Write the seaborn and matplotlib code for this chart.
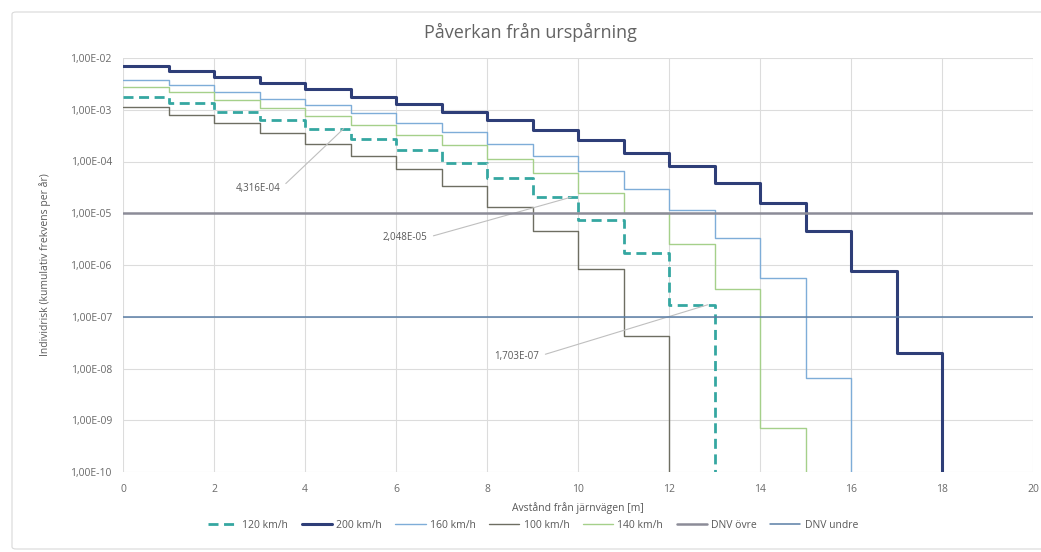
import numpy as np
import pandas as pd
import matplotlib
matplotlib.use("Agg")
import matplotlib.pyplot as plt
from matplotlib.ticker import FuncFormatter, LogLocator, NullLocator, MultipleLocator
from matplotlib.patches import FancyBboxPatch
import seaborn as sns

# Cumulative individual risk per year, stepwise per metre from the track
speed_120 = [1.75e-3, 1.35e-3, 9.0e-4, 6.3e-4, 4.316e-4, 2.7e-4, 1.66e-4, 9.3e-5,
             4.7e-5, 2.048e-5, 7.3e-6, 1.67e-6, 1.703e-7, 0.0]
speed_200 = [7.0e-3, 5.6e-3, 4.3e-3, 3.3e-3, 2.5e-3, 1.8e-3, 1.3e-3, 9.1e-4, 6.3e-4,
             4.0e-4, 2.6e-4, 1.45e-4, 8.2e-5, 3.8e-5, 1.55e-5, 4.5e-6, 7.8e-7, 2.0e-8, 0.0]
speed_160 = [3.7e-3, 3.0e-3, 2.2e-3, 1.6e-3, 1.23e-3, 8.6e-4, 5.5e-4, 3.7e-4, 2.2e-4,
             1.26e-4, 6.7e-5, 3.0e-5, 1.15e-5, 3.3e-6, 5.5e-7, 6.6e-9, 0.0]
speed_100 = [1.12e-3, 7.9e-4, 5.5e-4, 3.5e-4, 2.2e-4, 1.26e-4, 7.2e-5, 3.3e-5,
             1.3e-5, 4.5e-6, 8.5e-7, 4.3e-8, 0.0]
speed_140 = [2.8e-3, 2.2e-3, 1.55e-3, 1.1e-3, 7.6e-4, 5.0e-4, 3.2e-4, 2.05e-4, 1.1e-4,
             5.9e-5, 2.5e-5, 1.0e-5, 2.6e-6, 3.5e-7, 7e-10, 0.0]

# DNV acceptance criteria
dnv_ovre = 1e-5
dnv_undre = 1e-7

series_labels = ["120 km/h", "200 km/h", "160 km/h", "100 km/h", "140 km/h"]
series_values = [speed_120, speed_200, speed_160, speed_100, speed_140]
series_colors = ["#35A7A1", "#2E3E78", "#7EADD8", "#6E6E62", "#A5D08A"]
series_widths = [2.0, 2.2, 1.0, 1.0, 1.0]

# Annotated points: (series index, step index)
annotated = [(0, 4), (0, 9), (0, 12)]

sns.set_style("white")
plt.rcParams["font.family"] = ["Open Sans", "DejaVu Sans"]

fig = plt.figure(figsize=(10.41, 5.52), dpi=100)
fig.patches.append(FancyBboxPatch((12 / 1041, 3 / 552), 1.05, 537 / 552,
                                  boxstyle="round,pad=0,rounding_size=0.004",
                                  transform=fig.transFigure, fill=False,
                                  edgecolor="#D9D9D9", linewidth=0.8))

ax = fig.add_axes([123 / 1041, 80 / 552, 910 / 1041, 414 / 552])

for label, vals, col, lw in zip(series_labels, series_values, series_colors, series_widths):
    df = pd.DataFrame({"avstand": np.arange(len(vals)), "risk": vals})
    kw = dict(dashes=(3.6, 2.0)) if label == "120 km/h" else {}
    sns.lineplot(data=df, x="avstand", y="risk", ax=ax, color=col, linewidth=lw,
                 drawstyle="steps-post", estimator=None, label=label, **kw)

ax.axhline(dnv_ovre, color="#8C8C98", linewidth=1.8, label="DNV övre", zorder=5)
ax.axhline(dnv_undre, color="#5A7EA6", linewidth=1.1, label="DNV undre", zorder=5)

ax.set_yscale("log")
ax.set_ylim(1e-10, 1e-2)
ax.set_xlim(0, 20)
ax.xaxis.set_major_locator(MultipleLocator(2))
ax.yaxis.set_major_locator(LogLocator(base=10, numticks=20))
ax.yaxis.set_minor_locator(NullLocator())
ax.yaxis.set_major_formatter(FuncFormatter(lambda v, p: f"{v:.2E}".replace(".", ",")))

ax.grid(True, color="#DCDCDC", linewidth=0.8)
for s in ax.spines.values():
    s.set_visible(False)
ax.tick_params(length=0, labelsize=7.5, labelcolor="#6A6A6A")
ax.tick_params(axis="x", pad=9)
ax.tick_params(axis="y", pad=8)
ax.set_xlabel("Avstånd från järnvägen [m]", fontsize=7.5, color="#595959", labelpad=5)
ax.set_ylabel("Individrisk (kumulativ frekvens per år)", fontsize=7.5, color="#595959",
              labelpad=14)

fig.text(530 / 1041, 1 - 32 / 552, "Påverkan från urspårning", ha="center", va="center",
         fontsize=13, color="#636363")

# Value labels with leader lines
text_pos = [(2.97, 3.0e-5), (6.2, 3.4e-6), (8.66, 1.74e-8)]
for (si, k), (tx, ty) in zip(annotated, text_pos):
    val = series_values[si][k]
    ax.annotate(f"{val:.3E}".replace(".", ","), xy=(k + 0.85, val), xytext=(tx, ty),
                fontsize=7, color="#595959", ha="center", va="center",
                arrowprops=dict(arrowstyle="-", color="#BFBFBF", linewidth=0.8,
                                relpos=(1.0, 0.5), shrinkA=2, shrinkB=0))

h, l = ax.get_legend_handles_labels()
if ax.get_legend():
    ax.get_legend().remove()
fig.legend(h, l, loc="center", bbox_to_anchor=(533 / 1041, 1 - 525 / 552), ncol=7,
           frameon=False, fontsize=7.5, handlelength=2.9, handletextpad=0.4,
           columnspacing=1.3, labelcolor="#595959")

fig.savefig("out.png", dpi=100)
